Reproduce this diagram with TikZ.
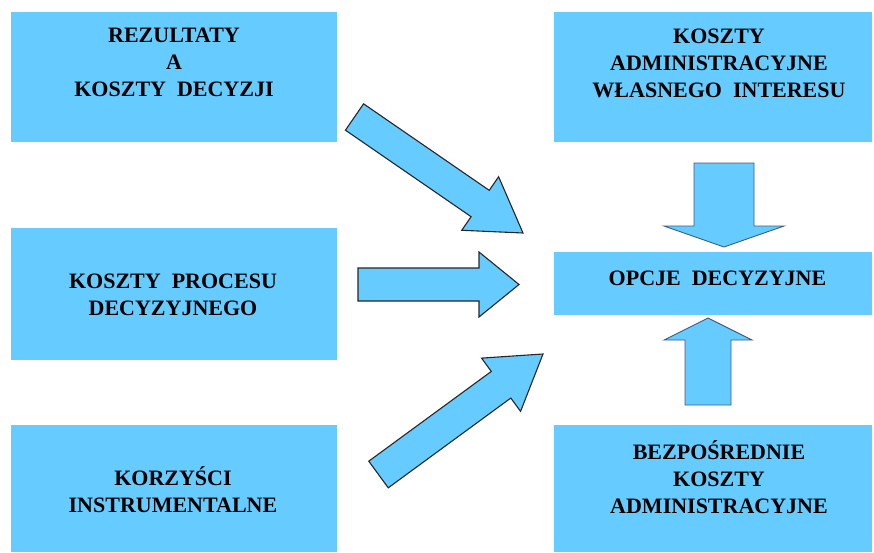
\documentclass[tikz,border=0pt]{standalone}
\usepackage{fontspec}
\setmainfont{Liberation Serif}
\usepackage{xcolor}
\usetikzlibrary{calc}

\definecolor{boxblue}{HTML}{66CCFF}
\definecolor{arrowedge}{HTML}{3D5C85}

% #1 style, #2 tail, #3 tip, #4 half shaft, #5 half head, #6 head length
\newcommand{\blockarrow}[6]{%
	\coordinate (neck) at ($(#3)!#6!(#2)$);
	\filldraw[#1] ($(#2)!#4!90:(#3)$) -- ($(neck)!#4!90:(#3)$) -- ($(neck)!#5!90:(#3)$)
		-- (#3) -- ($(neck)!#5!-90:(#3)$) -- ($(neck)!#4!-90:(#3)$) -- ($(#2)!#4!-90:(#3)$) -- cycle;
}

\begin{document}
\begin{tikzpicture}[x=1pt, y=-1pt,
		box/.style={rectangle, fill=boxblue, inner sep=0pt, minimum width=#1},
		box/.default=326pt,
		boxtext/.style={align=center, inner sep=0pt, font=\fontsize{22}{27}\selectfont\bfseries},
		bigarrow/.style={fill=boxblue, draw=black!85, line width=1.1pt, line join=miter},
		uparrow/.style={fill=boxblue, draw=arrowedge, line width=0.9pt, line join=miter}]
	\useasboundingbox (0,0) rectangle (874,552);
	
	\node[box, minimum height=130pt] (rez) at (174,77) {};
	\node[box, minimum height=132pt] (proc) at (174,294) {};
	\node[box, minimum height=127pt] (korz) at (174,488.5) {};
	\node[box=318pt, minimum height=130pt] (admw) at (713,77) {};
	\node[box=318pt, minimum height=63pt] (opcje) at (713,283.5) {};
	\node[box=318pt, minimum height=127pt] (bezp) at (713,488.5) {};
	
	\node[boxtext] (rezt) at (174,62.5) {REZULTATY\\A\\KOSZTY~~DECYZJI};
	\node[boxtext] (proct) at (173,294.5) {KOSZTY~~PROCESU\\DECYZYJNEGO};
	\node[boxtext] (korzt) at (173,490) {KORZYŚCI\\INSTRUMENTALNE};
	\node[boxtext] (admwt) at (719,63) {KOSZTY\\ADMINISTRACYJNE\\WŁASNEGO~~INTERESU};
	\node[boxtext] (opcjet) at (717.5,278) {OPCJE~~DECYZYJNE};
	\node[boxtext] (bezpt) at (719,477.5) {BEZPOŚREDNIE\\KOSZTY\\ADMINISTRACYJNE};
	
	\coordinate (a1s) at (354.5,117);
	\coordinate (a1e) at (523,233);
	\coordinate (a2s) at (358,284.5);
	\coordinate (a2e) at (519,284.5);
	\coordinate (a3s) at (378.5,474.5);
	\coordinate (a3e) at (543,354);
	\coordinate (dns) at (724,163);
	\coordinate (dne) at (724,247);
	\coordinate (ups) at (708,405);
	\coordinate (upe) at (708,318);
	
	\blockarrow{bigarrow}{a1s}{a1e}{16pt}{32.5pt}{52pt}
	\blockarrow{bigarrow}{a2s}{a2e}{16.5pt}{32.5pt}{40pt}
	\blockarrow{bigarrow}{a3s}{a3e}{16.5pt}{33pt}{52pt}
	\blockarrow{uparrow}{dns}{dne}{30pt}{60pt}{21pt}
	\blockarrow{uparrow}{ups}{upe}{23pt}{44pt}{22pt}
\end{tikzpicture}
\end{document}
